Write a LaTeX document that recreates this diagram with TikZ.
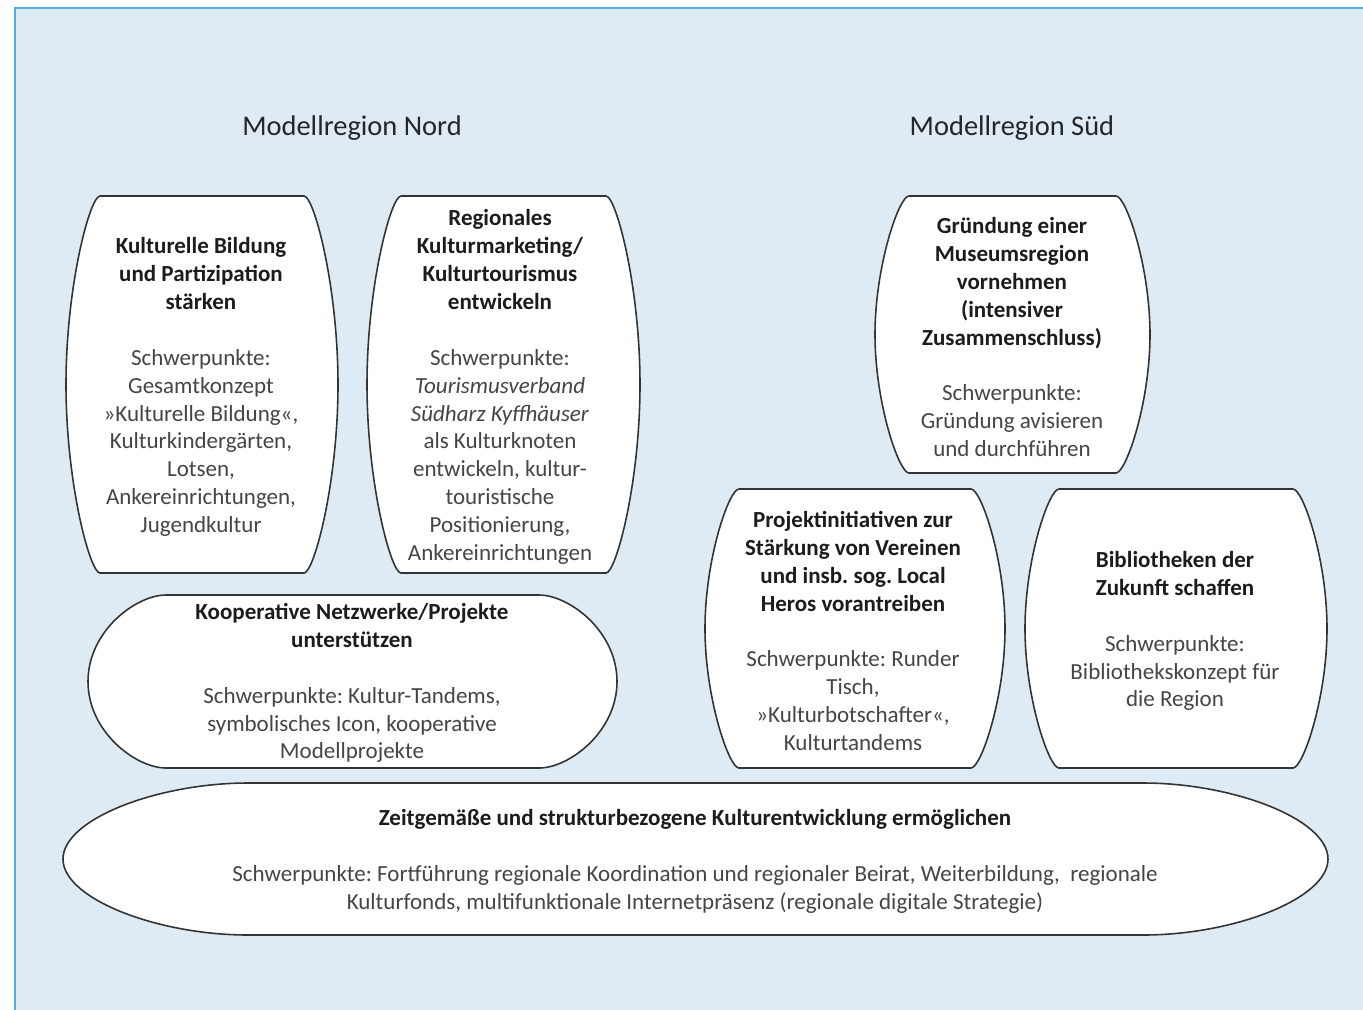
\documentclass[tikz,border=0pt]{standalone}
\usepackage{fontspec}
\setmainfont{Carlito}
\frenchspacing
\definecolor{hintergrund}{HTML}{DEEBF5}
\definecolor{rahmen}{HTML}{4FB0E3}
\definecolor{textgrau}{HTML}{454545}
\definecolor{kopfgrau}{HTML}{1C1C1C}

% Tonnenform: links, oben, rechts, unten, Einzug, Eckrundung, Seitenbogen
\newcommand{\tonne}[7]{%
  \draw[tonnenrand] ({#1+#5},#2) -- ({#3-#5},#2)
    .. controls ({#3-#5+#6},#2) and (#3,{#2+#7}) .. (#3,{(#2+#4)/2})
    .. controls (#3,{#4-#7}) and ({#3-#5+#6},#4) .. ({#3-#5},#4)
    -- ({#1+#5},#4)
    .. controls ({#1+#5-#6},#4) and (#1,{#4-#7}) .. (#1,{(#2+#4)/2})
    .. controls (#1,{#2+#7}) and ({#1+#5-#6},#2) .. cycle;}
\newcommand{\kopf}[1]{\textcolor{kopfgrau}{\bfseries #1}}

\tikzset{
  tonnenrand/.style={draw=black!80,fill=white,line width=0.9pt},
  inhalt/.style={align=center,text=textgrau,inner sep=0pt,
    font=\fontsize{13.1}{15.9}\selectfont},
  titel/.style={text=black!85,font=\fontsize{16.2}{19}\selectfont}
}

\begin{document}
\begin{tikzpicture}[x=0.02cm,y=-0.02cm]
\useasboundingbox (0,0) rectangle (1363,1009);
\fill[white] (0,0) rectangle (1363,1009);
\draw[rahmen,fill=hintergrund,line width=1pt] (15,8) rectangle (1380,1030);

\node[titel] (nord) at (352,128) {Modellregion Nord};
\node[titel] (sued) at (1012,128) {Modellregion Süd};

% Modellregion Nord
\tonne{66}{196}{338}{573}{34}{10}{90}
\tonne{367}{196}{640}{573}{34}{10}{90}
\tonne{88}{595}{617}{768}{78}{30}{36}

\node[inhalt] (kultur) at (201,387) {\kopf{Kulturelle Bildung}\\ \kopf{und Partizipation}\\ \kopf{stärken}\\[15.9pt]
  Schwerpunkte:\\ Gesamtkonzept\\ »Kulturelle Bildung«,\\ Kulturkindergärten,\\ Lotsen,\\ Ankereinrichtungen,\\ Jugendkultur};
\node[inhalt] (marketing) at (500,387) {\kopf{Regionales}\\ \kopf{Kulturmarketing/}\\ \kopf{Kulturtourismus}\\ \kopf{entwickeln}\\[15.9pt]
  Schwerpunkte:\\ \textit{Tourismusverband}\\ \textit{Südharz Kyffhäuser}\\ als Kulturknoten\\ entwickeln, kultur-\\ touristische\\ Positionierung,\\ Ankereinrichtungen};
\node[inhalt] (netzwerke) at (352,683) {\kopf{Kooperative Netzwerke/Projekte}\\ \kopf{unterstützen}\\[15.9pt]
  Schwerpunkte: Kultur-Tandems,\\ symbolisches Icon, kooperative\\ Modellprojekte};

% Modellregion Sued
\tonne{875}{196}{1150}{473}{34}{10}{70}
\tonne{705}{489}{1005}{768}{34}{10}{70}
\tonne{1025}{489}{1327}{768}{34}{10}{70}

\node[inhalt] (museum) at (1012,337) {\kopf{Gründung einer}\\ \kopf{Museumsregion}\\ \kopf{vornehmen}\\ \kopf{(intensiver}\\ \kopf{Zusammenschluss)}\\[15.9pt]
  Schwerpunkte:\\ Gründung avisieren\\ und durchführen};
\node[inhalt] (vereine) at (853,631) {\kopf{Projektinitiativen zur}\\ \kopf{Stärkung von Vereinen}\\ \kopf{und insb. sog. Local}\\ \kopf{Heros vorantreiben}\\[15.9pt]
  Schwerpunkte: Runder\\ Tisch,\\ »Kulturbotschafter«,\\ Kulturtandems};
\node[inhalt] (bibliothek) at (1175,631) {\kopf{Bibliotheken der}\\ \kopf{Zukunft schaffen}\\[15.9pt]
  Schwerpunkte:\\ Bibliothekskonzept für\\ die Region};

% gemeinsame Basis
\tonne{63}{783}{1328}{935}{185}{90}{36}
\node[inhalt] (entwicklung) at (695,861) {\kopf{Zeitgemäße und strukturbezogene Kulturentwicklung ermöglichen}\\[15.9pt]
  Schwerpunkte: Fortführung regionale Koordination und regionaler Beirat, Weiterbildung,\ \ regionale\\ Kulturfonds, multifunktionale Internetpräsenz (regionale digitale Strategie)};
\end{tikzpicture}
\end{document}
